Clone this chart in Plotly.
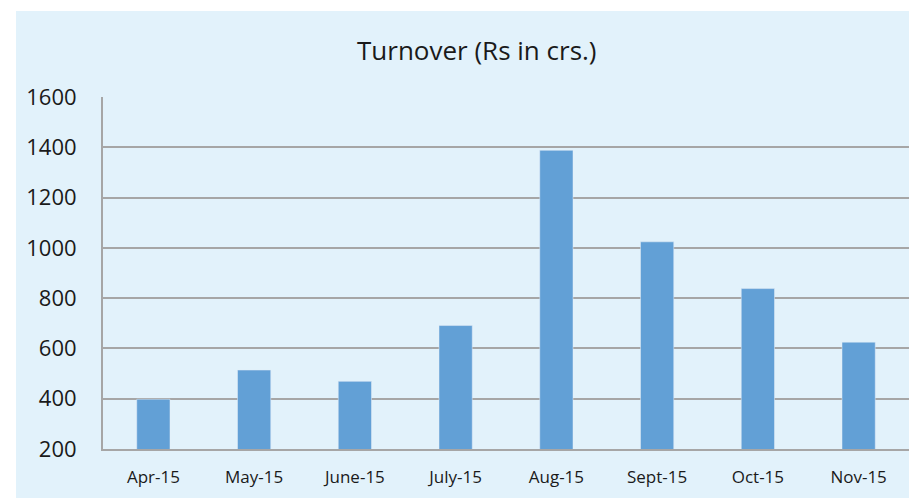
import plotly.graph_objects as go

months = ["Apr-15", "May-15", "June-15", "July-15", "Aug-15", "Sept-15", "Oct-15", "Nov-15"]
turnover = [398, 514, 469, 691, 1388, 1024, 838, 625]
y_ticks = [200, 400, 600, 800, 1000, 1200, 1400, 1600]

# page has an 8px body margin; figure is sized to fill the rest of the window
OFF = 8
W, H = 917 - OFF, 498 - OFF
L, R, T, B = 103 - OFF, W - (909 - OFF), 97 - OFF, H - (449 - OFF)
PW, PH = W - L - R, H - T - B

def px(x):
    return (x - OFF - L) / PW

def py(y):
    return (H - (y - OFF) - B) / PH

panel = "#E2F2FB"
grid = "#A6A6A6"
font = "Open Sans"

fig = go.Figure(go.Bar(x=months, y=turnover, marker_color="#62A0D6", width=0.33))

fig.update_layout(
    width=W, height=H,
    paper_bgcolor="white", plot_bgcolor=panel,
    margin=dict(l=L, r=R, t=T, b=B),
    showlegend=False,
    shapes=[dict(type="rect", xref="paper", yref="paper",
                 x0=px(16), x1=px(930), y0=py(510), y1=py(11),
                 fillcolor=panel, line_width=0, layer="below")],
    annotations=[dict(text="Turnover (Rs in crs.)", xref="paper", yref="paper",
                      x=px(477), y=py(50),
                      showarrow=False, xanchor="center", yanchor="middle",
                      font=dict(family=font, size=26, color="#1a1a1a"))],
)
fig.update_xaxes(showgrid=False, showline=True, linecolor=grid, linewidth=2,
                 ticks="", tickfont=dict(family=font, size=17, color="#1a1a1a"),
                 ticklabelstandoff=12)
fig.update_yaxes(range=[200, 1600], tickvals=y_ticks, showgrid=True, gridcolor=grid,
                 gridwidth=2, showline=True, linecolor=grid, linewidth=2, zeroline=False,
                 ticks="", tickfont=dict(family=font, size=22, color="#1a1a1a"),
                 ticklabelstandoff=20)
fig.write_html("out.html")
